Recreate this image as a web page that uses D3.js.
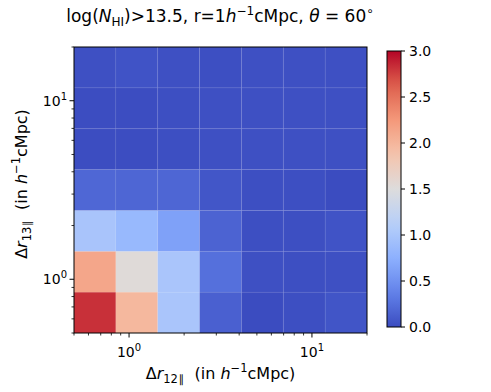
<!DOCTYPE html>
<html><head><meta charset="utf-8">
<script src="https://cdn.jsdelivr.net/npm/d3@7"></script>
<style>body{margin:0;background:#fff}text{font-family:"DejaVu Sans",sans-serif;fill:#000;white-space:pre}</style>
</head><body>
<svg id="c" width="491" height="392"></svg>
<script>
// bin edges (log spaced, 7 bins from 0.5 to 20)
const binLo = 0.5, binHi = 20, nBins = 7;
// values, rows from bottom (row 0 = smallest Δr13) to top; columns by Δr12
const row0 = [2.82, 1.98, 1.00, 0.14, 0.00, 0.02, 0.06];
const row1 = [2.13, 1.53, 1.00, 0.25, 0.03, 0.02, 0.03];
const row2 = [0.99, 0.85, 0.63, 0.16, 0.02, 0.02, 0.05];
const row3 = [0.19, 0.18, 0.18, 0.07, 0.02, 0.02, 0.00];
const row4 = [0.01, 0.01, 0.02, 0.03, 0.03, 0.03, 0.03];
const row5 = [0.01, 0.01, 0.02, 0.03, 0.03, 0.03, 0.03];
const row6 = [0.03, 0.05, 0.03, 0.02, 0.03, 0.03, 0.03];
const rows = [row0,row1,row2,row3,row4,row5,row6];
const cbTicks = [0.0,0.5,1.0,1.5,2.0,2.5,3.0];
const majorTicks = [1, 10];
const coolwarm = ["#3b4cc0","#6282ea","#8db0fe","#b8d0f9","#dddcdc","#f5c4ac","#f4987a","#de604d","#b40426"];

const svg = d3.select("#c");
const L=74, R=367, T=47, B=333;
const x = d3.scaleLog().domain([binLo,binHi]).range([L,R]);
const y = d3.scaleLog().domain([binLo,binHi]).range([B,T]);
const edges = d3.range(nBins+1).map(i => binLo*Math.pow(binHi/binLo, i/nBins));
const interp = d3.piecewise(d3.interpolateRgb, coolwarm);
const color = v => interp(Math.max(0,Math.min(1,v/3)));

const cells = [];
rows.forEach((r,j)=>r.forEach((v,i)=>cells.push({i,j,v})));
svg.append("g").selectAll("rect").data(cells).join("rect")
  .attr("x",d=>x(edges[d.i])).attr("width",d=>x(edges[d.i+1])-x(edges[d.i]))
  .attr("y",d=>y(edges[d.j+1])).attr("height",d=>y(edges[d.j])-y(edges[d.j+1]))
  .attr("fill",d=>color(d.v)).attr("stroke","#ffffff").attr("stroke-opacity",0.04).attr("stroke-width",1);

// minor ticks
const minors = [];
for (const dec of [0.1,1,10]) for (let k=1;k<10;k++){const v=dec*k; if(v>=binLo-1e-9&&v<=binHi+1e-9&&!majorTicks.includes(v)) minors.push(v);}
const g = svg.append("g").attr("stroke","#000");
minors.forEach(v=>{
  g.append("line").attr("x1",x(v)).attr("x2",x(v)).attr("y1",B).attr("y2",B+2.5).attr("stroke-width",0.8);
  g.append("line").attr("y1",y(v)).attr("y2",y(v)).attr("x1",L).attr("x2",L-2.5).attr("stroke-width",0.8);
});
majorTicks.forEach(v=>{
  g.append("line").attr("x1",x(v)).attr("x2",x(v)).attr("y1",B).attr("y2",B+4.5).attr("stroke-width",1);
  g.append("line").attr("y1",y(v)).attr("y2",y(v)).attr("x1",L).attr("x2",L-4.5).attr("stroke-width",1);
});
svg.append("rect").attr("x",L).attr("y",T).attr("width",R-L).attr("height",B-T)
  .attr("fill","none").attr("stroke","#000").attr("stroke-width",1);

function powLabel(sel, exp){
  sel.append("tspan").text("10");
  sel.append("tspan").attr("dy",-6).attr("font-size",10).text(exp);
}
majorTicks.forEach(v=>{
  const e = Math.round(Math.log10(v));
  const tx = svg.append("text").attr("x",x(v)).attr("y",B+24).attr("text-anchor","middle").attr("font-size",14);
  powLabel(tx,e);
  const ty = svg.append("text").attr("x",L-7).attr("y",y(v)+5).attr("text-anchor","end").attr("font-size",14);
  powLabel(ty,e);
});

// axis labels
function axLabel(sel, sub){
  sel.append("tspan").text("Δ");
  sel.append("tspan").attr("font-style","italic").text("r");
  sel.append("tspan").attr("font-size",11.5).attr("dy",4).text(sub);
  sel.append("tspan").attr("font-size",11).attr("dx",1).text("∥");
  sel.append("tspan").attr("dy",-4).text("  (in ");
  sel.append("tspan").attr("font-style","italic").text("h");
  sel.append("tspan").attr("font-size",11.5).attr("dy",-7).text("−1");
  sel.append("tspan").attr("dy",7).text("cMpc)");
}
axLabel(svg.append("text").attr("x",(L+R)/2).attr("y",379).attr("text-anchor","middle").attr("font-size",16),"12");
axLabel(svg.append("text").attr("transform",`translate(27,${(T+B)/2-6}) rotate(-90)`).attr("text-anchor","middle").attr("font-size",16),"13");

// title
const t = svg.append("text").attr("x",220).attr("y",22).attr("text-anchor","middle").attr("font-size",17);
t.append("tspan").text("log(");
t.append("tspan").attr("font-style","italic").text("N");
t.append("tspan").attr("font-size",12).attr("dy",4).text("HI");
t.append("tspan").attr("dy",-4).text(")>13.5, r=1");
t.append("tspan").attr("font-style","italic").text("h");
t.append("tspan").attr("font-size",12).attr("dy",-7).text("−1");
t.append("tspan").attr("dy",7).text("cMpc, ");
t.append("tspan").attr("font-style","italic").text("θ");
t.append("tspan").text(" = 60");
t.append("tspan").attr("font-size",12).attr("dy",-7).text("∘");

// colorbar
const cbL=387, cbR=401, cbT=51, cbB=327;
const cy = d3.scaleLinear().domain([0,3]).range([cbB,cbT]);
const defs = svg.append("defs");
const grad = defs.append("linearGradient").attr("id","cw").attr("x1",0).attr("y1",1).attr("x2",0).attr("y2",0);
d3.range(0,1.0001,0.05).forEach(s=>grad.append("stop").attr("offset",s).attr("stop-color",interp(s)));
svg.append("rect").attr("x",cbL).attr("y",cbT).attr("width",cbR-cbL).attr("height",cbB-cbT).attr("fill","url(#cw)")
  .attr("stroke","#000").attr("stroke-width",1);
cbTicks.forEach(v=>{
  svg.append("line").attr("x1",cbR).attr("x2",cbR+4).attr("y1",cy(v)).attr("y2",cy(v)).attr("stroke","#000");
  svg.append("text").attr("x",cbR+8).attr("y",cy(v)+5).attr("font-size",14).text(v.toFixed(1));
});
</script>
</body></html>
